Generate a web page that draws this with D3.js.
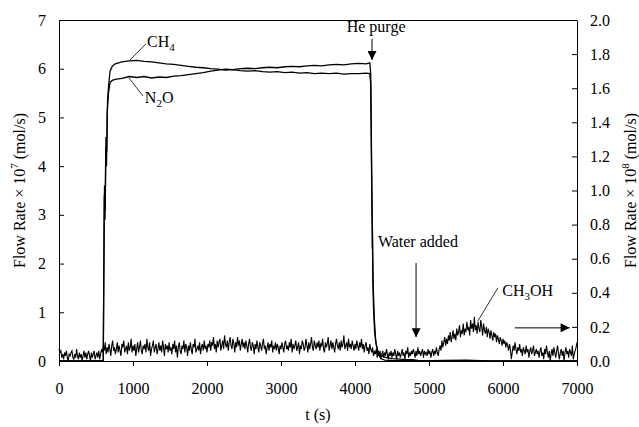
<!DOCTYPE html>
<html>
<head>
<meta charset="utf-8">
<script src="https://cdn.jsdelivr.net/npm/d3@7"></script>
<style>
  body { margin: 0; background: #fff; }
  svg text { font-family: "Liberation Serif", "DejaVu Serif", serif; fill: #000; }
</style>
</head>
<body>
<svg id="chart"></svg>
<script>
// CH4 flow (x 10^-7 mol/s), left axis
const ch4Times  = [0, 598, 605, 615, 625, 635, 645, 655, 670, 690, 720, 760, 850, 950, 1050, 1150, 1250, 1350, 1450, 1550, 1650, 1750, 1850, 1950, 2050, 2150, 2250, 2350, 2450, 2550, 2650, 2750, 2850, 2950, 3050, 3150, 3250, 3350, 3450, 3550, 3650, 3750, 3850, 3950, 4050, 4150, 4200, 4212, 4220, 4228, 4232, 4234, 4236, 4238, 4242, 4250, 4265, 4285, 4310, 4350, 4400, 4500, 4600, 4700, 4780, 4850, 4900, 5200, 5500, 5800, 7000];
const ch4Values = [0, 0, 1.6, 3.6, 3.1, 4.6, 4.3, 5.3, 5.65, 5.95, 6.05, 6.1, 6.14, 6.16, 6.17, 6.15, 6.14, 6.12, 6.1, 6.09, 6.07, 6.05, 6.03, 6.02, 6.0, 5.99, 5.97, 5.98, 5.96, 5.95, 5.96, 5.94, 5.93, 5.94, 5.92, 5.93, 5.91, 5.92, 5.9, 5.91, 5.9, 5.91, 5.89, 5.9, 5.9, 5.91, 5.9, 5.7, 4.5, 3.2, 2.8, 2.3, 2.7, 2.2, 1.6, 1.1, 0.6, 0.35, 0.2, 0.12, 0.08, 0.05, 0.04, 0.03, 0.03, 0.01, 0.0, 0.01, 0.02, 0.0, 0.0];

// N2O flow (x 10^-7 mol/s), left axis
const n2oTimes  = [0, 598, 603, 612, 622, 632, 642, 652, 668, 690, 720, 760, 850, 950, 1050, 1150, 1250, 1350, 1450, 1550, 1650, 1750, 1850, 1950, 2050, 2150, 2250, 2350, 2450, 2550, 2650, 2750, 2850, 2950, 3050, 3150, 3250, 3350, 3450, 3550, 3650, 3750, 3850, 3950, 4050, 4150, 4200, 4212, 4220, 4228, 4236, 4245, 4260, 4280, 4310, 4350, 4400, 4500, 5000, 7000];
const n2oValues = [0, 0, 1.2, 3.4, 2.9, 4.4, 4.0, 5.1, 5.5, 5.72, 5.76, 5.78, 5.8, 5.84, 5.82, 5.84, 5.81, 5.83, 5.82, 5.85, 5.86, 5.88, 5.9, 5.92, 5.95, 5.97, 5.99, 5.98, 6.0, 6.01, 6.0, 6.02, 6.03, 6.02, 6.04, 6.05, 6.04, 6.06, 6.07, 6.06, 6.08, 6.09, 6.08, 6.1, 6.11, 6.1, 6.12, 5.9, 4.8, 3.5, 2.5, 1.6, 0.9, 0.4, 0.15, 0.05, 0.02, 0.01, 0, 0];

// CH3OH flow (x 10^-8 mol/s), right axis, one reading every 12.5 s from t = 0
const ch3ohStep = 12.5;
const ch3ohValues = [
  // 0 - 487.5
  0.07,0.05,0.06,0.02,0.04,0.01,0.05,0.03,0.06,0.02, 0.00,0.04,0.03,0.05,0.06,0.02,0.01,0.04,0.02,0.07,
  0.03,0.01,0.05,0.02,0.04,0.00,0.03,0.06,0.02,0.05, 0.01,0.04,0.06,0.03,0.00,0.05,0.02,0.04,0.06,0.01,
  // 500 - 987.5
  0.03,0.05,0.02,0.06,0.01,0.04,0.07,0.05,0.09,0.06, 0.11,0.04,0.08,0.05,0.10,0.07,0.03,0.09,0.12,0.06,
  0.08,0.04,0.07,0.11,0.05,0.09,0.06,0.03,0.10,0.08, 0.12,0.05,0.07,0.09,0.04,0.11,0.06,0.08,0.13,0.05,
  // 1000 - 1487.5
  0.09,0.06,0.10,0.03,0.07,0.11,0.05,0.08,0.12,0.06, 0.04,0.09,0.07,0.10,0.05,0.13,0.08,0.06,0.11,0.03,
  0.07,0.09,0.12,0.05,0.08,0.10,0.04,0.07,0.11,0.06, 0.09,0.05,0.12,0.08,0.03,0.10,0.07,0.09,0.05,0.11,
  // 1500 - 1987.5
  0.06,0.08,0.04,0.10,0.07,0.12,0.05,0.09,0.02,0.08, 0.11,0.06,0.04,0.09,0.07,0.12,0.05,0.10,0.08,0.03,
  0.09,0.06,0.11,0.07,0.04,0.10,0.08,0.13,0.05,0.07, 0.09,0.06,0.11,0.04,0.08,0.10,0.06,0.12,0.07,0.09,
  // 2000 - 2487.5
  0.05,0.10,0.08,0.12,0.06,0.11,0.09,0.14,0.07,0.10, 0.05,0.12,0.08,0.11,0.13,0.06,0.09,0.12,0.07,0.15,
  0.10,0.08,0.12,0.06,0.11,0.14,0.09,0.07,0.13,0.10, 0.05,0.11,0.08,0.14,0.09,0.12,0.06,0.10,0.13,0.08,
  // 2500 - 2987.5
  0.11,0.07,0.12,0.09,0.05,0.10,0.13,0.08,0.06,0.11, 0.09,0.04,0.10,0.07,0.12,0.08,0.05,0.11,0.09,0.06,
  0.10,0.13,0.07,0.09,0.04,0.08,0.11,0.06,0.10,0.08, 0.12,0.05,0.09,0.07,0.11,0.06,0.10,0.08,0.04,0.09,
  // 3000 - 3487.5
  0.07,0.11,0.08,0.05,0.10,0.12,0.07,0.09,0.06,0.11, 0.08,0.13,0.05,0.10,0.07,0.09,0.12,0.06,0.08,0.11,
  0.04,0.09,0.07,0.12,0.10,0.06,0.08,0.13,0.09,0.05, 0.11,0.07,0.10,0.14,0.08,0.06,0.12,0.09,0.07,0.11,
  // 3500 - 3987.5
  0.08,0.12,0.06,0.10,0.09,0.13,0.07,0.05,0.11,0.08, 0.10,0.14,0.06,0.09,0.12,0.07,0.11,0.08,0.05,0.10,
  0.13,0.09,0.07,0.11,0.06,0.12,0.08,0.10,0.15,0.07, 0.09,0.11,0.06,0.13,0.08,0.10,0.07,0.12,0.09,0.06,
  // 4000 - 4487.5
  0.10,0.07,0.12,0.09,0.06,0.11,0.08,0.13,0.07,0.10, 0.05,0.09,0.11,0.06,0.08,0.04,0.10,0.07,0.05,0.08,
  0.03,0.06,0.04,0.07,0.02,0.05,0.03,0.06,0.01,0.04, 0.06,0.02,0.05,0.03,0.07,0.04,0.01,0.05,0.03,0.06,
  // 4500 - 4987.5
  0.02,0.05,0.03,0.07,0.04,0.01,0.06,0.03,0.05,0.02, 0.04,0.07,0.03,0.05,0.01,0.06,0.04,0.08,0.02,0.05,
  0.03,0.06,0.04,0.07,0.05,0.02,0.06,0.03,0.08,0.04, 0.06,0.03,0.05,0.07,0.02,0.06,0.04,0.05,0.03,0.07,
  // 5000 - 5487.5
  0.04,0.06,0.02,0.05,0.07,0.03,0.06,0.04,0.08,0.05, 0.03,0.07,0.09,0.06,0.12,0.08,0.11,0.14,0.09,0.13,
  0.10,0.15,0.12,0.17,0.11,0.14,0.18,0.13,0.16,0.12, 0.19,0.15,0.17,0.21,0.14,0.18,0.16,0.22,0.15,0.19,
  // 5500 - 5987.5
  0.17,0.23,0.18,0.20,0.15,0.24,0.19,0.22,0.17,0.26, 0.18,0.21,0.16,0.23,0.19,0.17,0.24,0.20,0.15,0.22,
  0.18,0.16,0.20,0.14,0.19,0.17,0.13,0.18,0.15,0.12, 0.17,0.14,0.16,0.11,0.15,0.13,0.10,0.14,0.12,0.09,
  // 6000 - 6487.5
  0.13,0.10,0.12,0.08,0.11,0.09,0.06,0.10,0.07,0.01, 0.05,0.09,0.06,0.11,0.07,0.04,0.08,0.06,0.10,0.05,
  0.07,0.03,0.08,0.06,0.04,0.09,0.05,0.07,0.02,0.06, 0.08,0.04,0.06,0.09,0.03,0.05,0.07,0.04,0.06,0.02,
  // 6500 - 6987.5
  0.06,0.08,0.03,0.05,0.01,0.07,0.04,0.09,0.05,0.02, 0.06,0.00,0.04,0.07,0.03,0.08,0.05,0.02,0.06,0.09,
  0.04,0.01,0.05,0.07,0.03,0.06,0.00,0.05,0.08,0.04, 0.06,0.02,0.07,0.05,0.03,0.09,0.01,0.04,0.06,0.08,
  // 7000
  0.11
];

// axis ticks
const xTicks = [0, 1000, 2000, 3000, 4000, 5000, 6000, 7000];
const yLeftTicks = [0, 1, 2, 3, 4, 5, 6, 7];
const yRightTicks = [0, 0.2, 0.4, 0.6, 0.8, 1.0, 1.2, 1.4, 1.6, 1.8, 2.0];

const W = 639, H = 427;
const margin = { top: 20, right: 62, bottom: 66, left: 59 };
const serif = "'Liberation Serif', 'DejaVu Serif', serif";

const svg = d3.select("#chart").attr("width", W).attr("height", H);

const x = d3.scaleLinear().domain([0, 7000]).range([margin.left, W - margin.right]);
const yL = d3.scaleLinear().domain([0, 7]).range([H - margin.bottom, margin.top]);
const yR = d3.scaleLinear().domain([0, 2]).range([H - margin.bottom, margin.top]);

// frame top
svg.append("line")
    .attr("x1", x(0)).attr("x2", x(7000))
    .attr("y1", yL(7) + 0.5).attr("y2", yL(7) + 0.5)
    .attr("stroke", "#000");

// axes
function styleAxis(g) {
    g.attr("font-family", serif).attr("font-size", 16);
    g.selectAll("text").style("font-family", serif).style("font-size", "16px");
}

svg.append("g")
    .attr("transform", "translate(0," + yL(0) + ")")
    .call(d3.axisBottom(x).tickValues(xTicks).tickFormat(d3.format("d"))
        .tickSizeInner(5).tickSizeOuter(0).tickPadding(17))
    .call(styleAxis);

svg.append("g")
    .attr("transform", "translate(" + x(0) + ",0)")
    .call(d3.axisLeft(yL).tickValues(yLeftTicks).tickFormat(d3.format("d"))
        .tickSizeInner(-5).tickSizeOuter(0).tickPadding(13))
    .call(styleAxis);

svg.append("g")
    .attr("transform", "translate(" + x(7000) + ",0)")
    .call(d3.axisRight(yR).tickValues(yRightTicks).tickFormat(d3.format(".1f"))
        .tickSizeInner(-5).tickSizeOuter(0).tickPadding(13))
    .call(styleAxis);

// series
const lineL = d3.line().x(d => x(d[0])).y(d => yL(d[1]));
const lineR = d3.line().x(d => x(d[0])).y(d => yR(d[1]));

const ch3oh = ch3ohValues.map((v, i) => [i * ch3ohStep, v]);
svg.append("path")
    .datum(ch3oh)
    .attr("fill", "none").attr("stroke", "#000").attr("stroke-width", 1.1)
    .attr("d", lineR);

svg.append("path")
    .datum(ch4Times.map((t, i) => [t, ch4Values[i]]))
    .attr("fill", "none").attr("stroke", "#000").attr("stroke-width", 1.3)
    .attr("d", lineL);

svg.append("path")
    .datum(n2oTimes.map((t, i) => [t, n2oValues[i]]))
    .attr("fill", "none").attr("stroke", "#000").attr("stroke-width", 1.3)
    .attr("d", lineL);

// arrow marker
svg.append("defs").append("marker")
    .attr("id", "arr")
    .attr("viewBox", "0 0 10 10")
    .attr("refX", 10).attr("refY", 5)
    .attr("markerWidth", 10).attr("markerHeight", 9)
    .attr("markerUnits", "userSpaceOnUse")
    .attr("orient", "auto")
    .append("path").attr("d", "M0,0 L10,5 L0,10 Z").attr("fill", "#000");

// leader lines (left axis units)
const leaders = [
    [960, 6.18, 1175, 6.51],
    [945, 5.81, 1135, 5.44],
    [5930, 1.50, 5660, 0.82]
];
leaders.forEach(l => {
    svg.append("line")
        .attr("x1", x(l[0])).attr("y1", yL(l[1]))
        .attr("x2", x(l[2])).attr("y2", yL(l[3]))
        .attr("stroke", "#000").attr("stroke-width", 0.8);
});

// arrows
const arrows = [
    [4230, 6.61, 4230, 6.18],
    [4825, 2.01, 4825, 0.49],
    [6160, 0.68, 6900, 0.68]
];
arrows.forEach(a => {
    svg.append("line")
        .attr("x1", x(a[0])).attr("y1", yL(a[1]))
        .attr("x2", x(a[2])).attr("y2", yL(a[3]))
        .attr("stroke", "#000").attr("stroke-width", 1)
        .attr("marker-end", "url(#arr)");
});

// labels with subscripts
function subLabel(t, v, parts) {
    const txt = svg.append("text")
        .attr("x", x(t)).attr("y", yL(v))
        .style("font-size", "16px");
    parts.forEach(p => {
        if (p.sub) {
            txt.append("tspan").attr("dy", 4).style("font-size", "11px").text(p.sub);
        } else {
            txt.append("tspan").attr("dy", p.after ? -4 : 0).text(p.t);
        }
    });
}
subLabel(1190, 6.45, [{ t: "CH" }, { sub: "4" }]);
subLabel(1160, 5.30, [{ t: "N" }, { sub: "2" }, { t: "O", after: true }]);
subLabel(5990, 1.33, [{ t: "CH" }, { sub: "3" }, { t: "OH", after: true }]);

svg.append("text")
    .attr("x", x(4285)).attr("y", yL(6.75))
    .attr("text-anchor", "middle").style("font-size", "16px")
    .text("He purge");

svg.append("text")
    .attr("x", x(4850)).attr("y", yL(2.34))
    .attr("text-anchor", "middle").style("font-size", "16px")
    .text("Water added");

// axis titles
svg.append("text")
    .attr("x", (x(0) + x(7000)) / 2).attr("y", 420)
    .attr("text-anchor", "middle").style("font-size", "16px")
    .text("t (s)");

function yTitle(xpos, exp) {
    const t = svg.append("text")
        .attr("transform", "translate(" + xpos + "," + (yL(3.5)) + ") rotate(-90)")
        .attr("text-anchor", "middle").style("font-size", "16px");
    t.append("tspan").text("Flow Rate \u00d7 10");
    t.append("tspan").attr("dy", -7).style("font-size", "11px").text(exp);
    t.append("tspan").attr("dy", 7).text(" (mol/s)");
}
yTitle(25, "7");
yTitle(636, "8");
</script>
</body>
</html>
